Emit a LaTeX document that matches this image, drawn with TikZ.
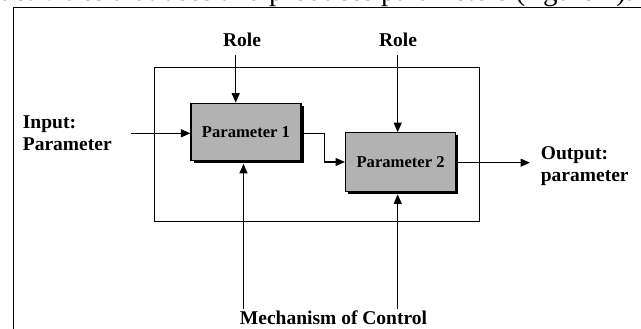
\documentclass[tikz,border=0pt]{standalone}
\usepackage{fontspec}
\setmainfont{Liberation Serif}
\usetikzlibrary{arrows.meta,shadows}
\begin{document}
\begin{tikzpicture}[x=1pt,y=-1pt,
  ln/.style={line width=1.2pt,draw=black},
  arr/.style={ln,-{Triangle[length=9.5pt,width=8pt]}},
  lbl/.style={font=\fontsize{19.5}{22}\selectfont\bfseries,inner sep=0pt},
  parbox/.style={draw=black,line width=1.2pt,fill=black!30,minimum width=110pt,minimum height=57.5pt,
    inner sep=0pt,font=\fontsize{16.6}{19}\selectfont\bfseries,
    drop shadow={shadow xshift=2.5pt,shadow yshift=-2.5pt,opacity=1,fill=black}},
  ]
\useasboundingbox (0,0) rectangle (641,329);
\begin{scope}
\clip (0,0) rectangle (641,329);
\node[anchor=base west,inner sep=0pt,font=\fontsize{29}{34}\selectfont] (cap) at (0,1) {activities that uses and produces parameters (figure 7).};
\coordinate (fbl) at (13.3,335);
\coordinate (ftl) at (13.3,7.3);
\coordinate (ftr) at (650,7.3);
\draw[ln] (fbl) -- (ftl) -- (ftr);
\end{scope}
% inner frame
\node[ln,minimum width=325.5pt,minimum height=154pt,anchor=north west,inner sep=0pt] (frame) at (153.5,67) {};
% boxes
\node[parbox] (b1) at (246,132) {Parameter 1};
\node[parbox,minimum height=58.5pt] (b2) at (400.6,162) {Parameter 2};
% labels
\node[lbl,anchor=base] (role1) at (242,47) {Role};
\node[lbl,anchor=base] (role2) at (398,47) {Role};
\node[lbl,anchor=north west,align=left] (inp) at (22.7,115.4) {Input:\\Parameter};
\node[lbl,anchor=north west,align=left] (outp) at (540.7,146) {Output:\\parameter};
\node[lbl,anchor=base] (mech) at (333.5,324) {Mechanism of Control};
% connector start points
\coordinate (r1a) at (235.7,55);
\coordinate (r2a) at (397.7,55);
\coordinate (m1a) at (243.5,309);
\coordinate (m2a) at (397.7,309);
\coordinate (ina) at (131,133.3);
\coordinate (outa) at (530,162.7);
% connectors
\draw[arr] (ina) -- (ina -| b1.west);
\draw[arr] (r1a) -- (r1a |- b1.north);
\draw[arr] (r2a) -- (r2a |- b2.north);
\draw[arr] (m1a) -- ([yshift=-2.5pt]m1a |- b1.south);
\draw[arr] (m2a) -- ([yshift=-2.5pt]m2a |- b2.south);
\draw[arr] (b1.east |- ina) -- ++(22.5,0) |- (b2.west);
\draw[arr] (b2.east |- outa) -- (outa);
\end{tikzpicture}
\end{document}
